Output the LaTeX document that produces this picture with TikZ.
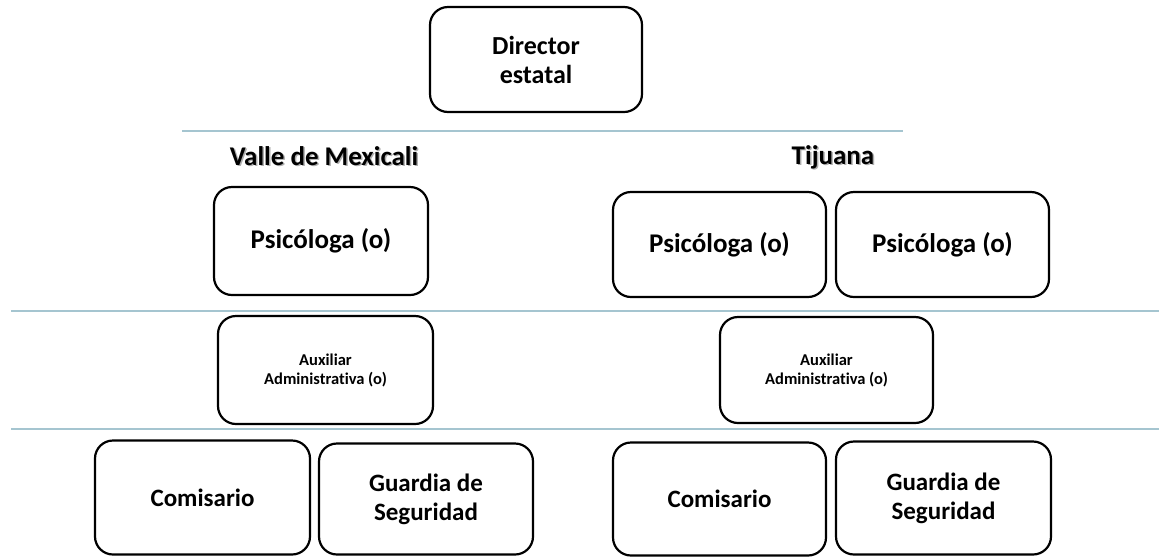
\documentclass[tikz,border=0pt]{standalone}
\usepackage{fontspec}
\setmainfont{Carlito}[Ligatures=NoCommon]
\begin{document}
\begin{tikzpicture}[x=1pt,y=-1pt,
  rolebox/.style={draw=black,line width=2.2pt,rounded corners=18pt,fill=white,
    align=center,inner sep=0pt,font=\bfseries\fontsize{25}{29}\selectfont},
  psibox/.style={rolebox,font=\bfseries\fontsize{27}{31}\selectfont},
  dirbox/.style={rolebox,font=\bfseries\fontsize{26}{29}\selectfont},
  smallbox/.style={rolebox,font=\bfseries\fontsize{16.5}{19}\selectfont},
  sepline/.style={draw={rgb,255:red,165;green,197;blue,208},line width=2pt},
  heading/.style={font=\bfseries\fontsize{27}{31}\selectfont,inner sep=0pt,anchor=base},
  headshadow/.style={heading,text=black!45,opacity=0.7}]
\useasboundingbox (0,0) rectangle (1159,558);
% separators
\coordinate (l1a) at (182,131); \coordinate (l1b) at (903,131);
\coordinate (l2a) at (11,311);  \coordinate (l2b) at (1159,311);
\coordinate (l3a) at (11,429);  \coordinate (l3b) at (1159,429);
\draw[sepline] (l1a) -- (l1b);
\draw[sepline] (l2a) -- (l2b);
\draw[sepline] (l3a) -- (l3b);
% boxes
\node[dirbox,minimum width=212pt,minimum height=105pt] (dir) at (536,59.5) {Director\\estatal};
\node[psibox,minimum width=214pt,minimum height=108pt] (psiV) at (321,241) {Psicóloga (o)};
\node[psibox,minimum width=213pt,minimum height=105pt] (psiT1) at (719.5,244.5) {Psicóloga (o)};
\node[psibox,minimum width=213pt,minimum height=105pt] (psiT2) at (942.5,244.5) {Psicóloga (o)};
\node[smallbox,minimum width=215pt,minimum height=108pt] (auxV) at (325.5,370) {Auxiliar\\Administrativa (o)};
\node[smallbox,minimum width=213pt,minimum height=106pt] (auxT) at (826.5,370) {Auxiliar\\Administrativa (o)};
\node[rolebox,minimum width=215pt,minimum height=114pt] (comV) at (202.5,497.5) {Comisario};
\node[rolebox,minimum width=214pt,minimum height=111pt] (guaV) at (426,499) {Guardia de\\Seguridad};
\node[rolebox,minimum width=213pt,minimum height=113pt] (comT) at (719.5,499) {Comisario};
\node[rolebox,minimum width=215pt,minimum height=113pt] (guaT) at (943.5,498) {Guardia de\\Seguridad};
% headings with shadow
\node[headshadow] at (325.5,166.5) {Valle de Mexicali};
\node[heading] (hV) at (324,165) {Valle de Mexicali};
\node[headshadow] at (834.5,165.5) {Tijuana};
\node[heading] (hT) at (833,164) {Tijuana};
\end{tikzpicture}
\end{document}
